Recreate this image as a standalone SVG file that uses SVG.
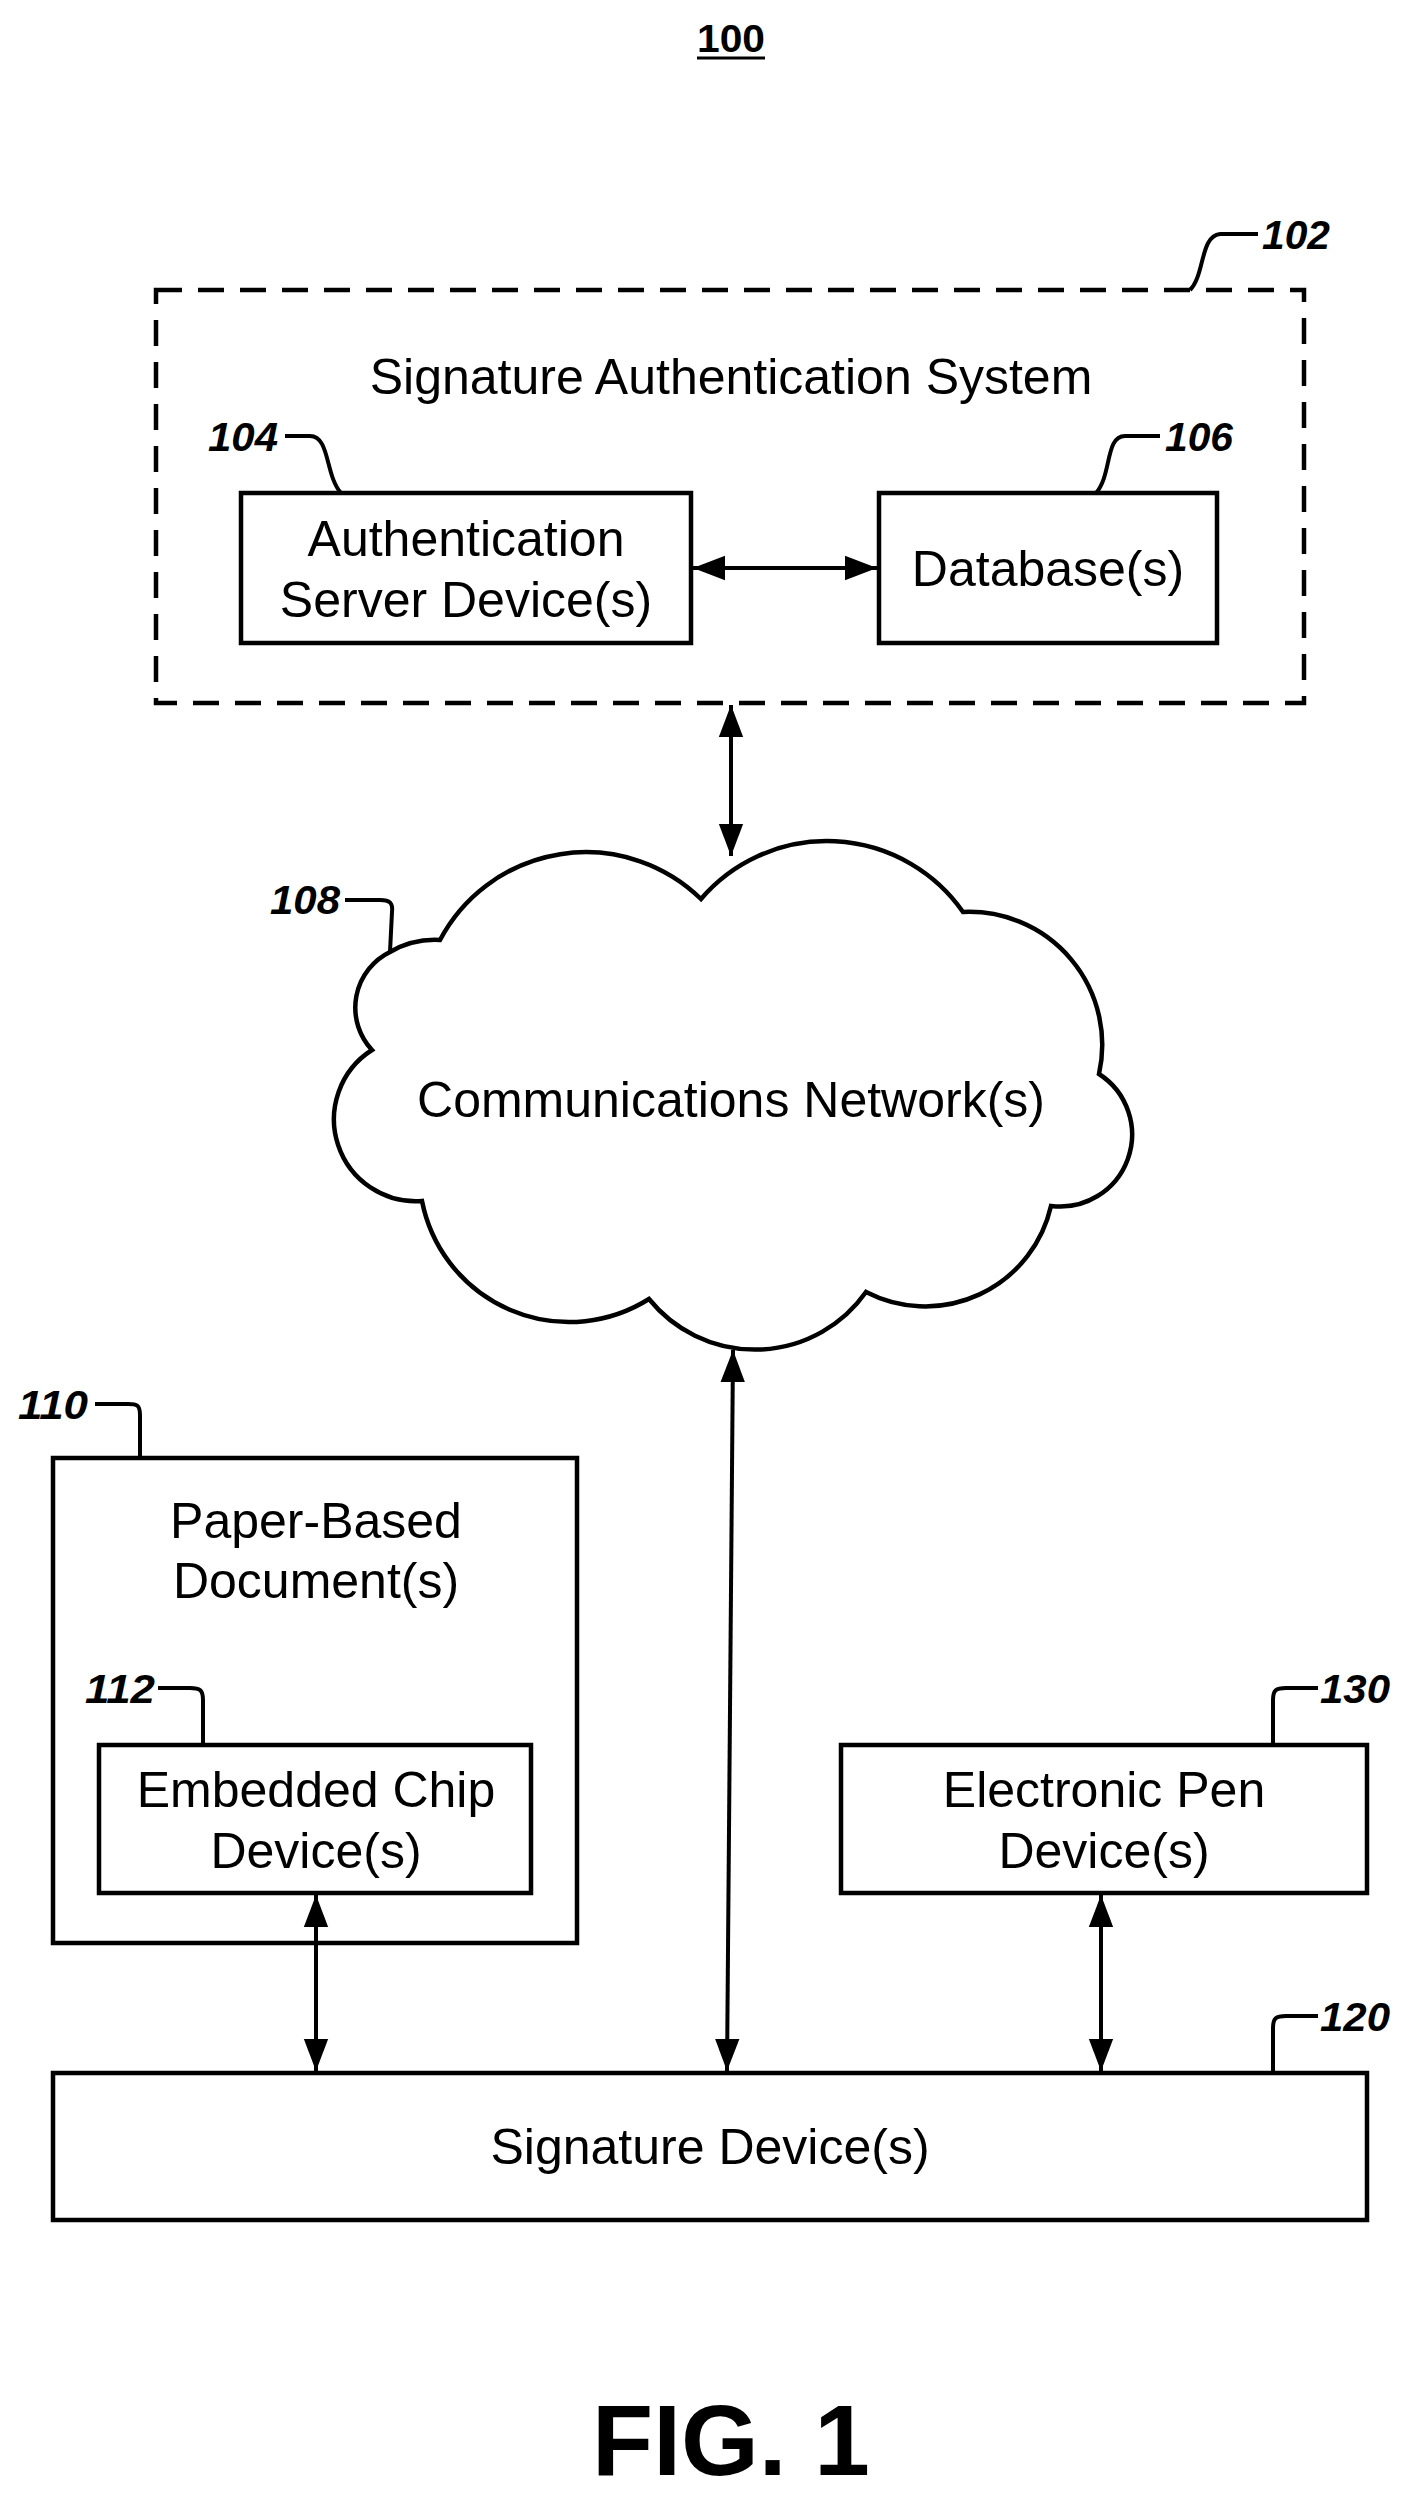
<svg xmlns="http://www.w3.org/2000/svg" width="1415" height="2495" viewBox="0 0 1415 2495">
<defs>
<marker id="ah" viewBox="0 0 10 10" refX="10" refY="5" markerWidth="32" markerHeight="32" markerUnits="userSpaceOnUse" orient="auto-start-reverse"><path d="M0,1.2 L10,5 L0,8.8 Z" fill="#000"/></marker>
<style>
.t{font-family:"Liberation Sans",Arial,sans-serif;font-size:50px;text-anchor:middle;fill:#000}
.l{font-family:"Liberation Sans",Arial,sans-serif;font-size:40px;font-weight:bold;font-style:italic;fill:#000}
.b{fill:#fff;stroke:#000;stroke-width:4.5}
.ld{fill:none;stroke:#000;stroke-width:4}
.c{fill:none;stroke:#000;stroke-width:4;marker-start:url(#ah);marker-end:url(#ah)}
</style>
</defs>
<rect width="1415" height="2495" fill="#fff"/>
<g id="title">
<text x="731" y="52" class="t" style="font-weight:bold;font-size:38px" textLength="68" lengthAdjust="spacingAndGlyphs">100</text>
<line x1="697" y1="58" x2="765" y2="58" stroke="#000" stroke-width="3"/>
</g>
<g id="n102">
<rect x="156" y="290" width="1148" height="413" fill="none" stroke="#000" stroke-width="4.5" stroke-dasharray="26,16"/>
<text x="731" y="394" class="t">Signature Authentication System</text>
<path class="ld" d="M1190,290 C1205,275 1200,236 1220,234 L1258,234"/>
<text x="1262" y="249" class="l" textLength="68" lengthAdjust="spacingAndGlyphs">102</text>
</g>
<g id="n104">
<rect class="b" x="241" y="493" width="450" height="150"/>
<text x="466" y="556" class="t">Authentication</text>
<text x="466" y="617" class="t">Server Device(s)</text>
<path class="ld" d="M341,493 C325,475 330,436 310,436 L285,436"/>
<text x="208" y="451" class="l" textLength="70" lengthAdjust="spacingAndGlyphs">104</text>
</g>
<g id="n106">
<rect class="b" x="879" y="493" width="338" height="150"/>
<text x="1048" y="586" class="t">Database(s)</text>
<path class="ld" d="M1096,493 C1112,475 1105,436 1125,436 L1160,436"/>
<text x="1165" y="451" class="l" textLength="68" lengthAdjust="spacingAndGlyphs">106</text>
</g>
<g id="n108">
<path class="b" d="M390,952 A90,90 0 0 1 440,940 A165,165 0 0 1 701,899 A166,166 0 0 1 963,912 A133,133 0 0 1 1099,1074 A72,72 0 0 1 1051,1206 A129,129 0 0 1 866,1292 A136,136 0 0 1 649,1299 A150,150 0 0 1 422,1201 A82,82 0 0 1 372,1050 A62,62 0 0 1 390,952 Z"/>
<text x="731" y="1117" class="t">Communications Network(s)</text>
<path class="ld" d="M390,952 L392,912 C393,903 390,900 380,900 L345,900"/>
<text x="270" y="914" class="l" textLength="70" lengthAdjust="spacingAndGlyphs">108</text>
</g>
<g id="n110">
<rect class="b" x="53" y="1458" width="524" height="485"/>
<text x="316" y="1538" class="t">Paper-Based</text>
<text x="316" y="1598" class="t">Document(s)</text>
<path class="ld" d="M140,1458 L140,1415 C140,1405 137,1404 128,1404 L95,1404"/>
<text x="18" y="1419" class="l" textLength="70" lengthAdjust="spacingAndGlyphs">110</text>
</g>
<g id="n112">
<rect class="b" x="99" y="1745" width="432" height="148"/>
<text x="316" y="1807" class="t">Embedded Chip</text>
<text x="316" y="1868" class="t">Device(s)</text>
<path class="ld" d="M203,1745 L203,1700 C203,1690 200,1688 190,1688 L158,1688"/>
<text x="85" y="1703" class="l" textLength="70" lengthAdjust="spacingAndGlyphs">112</text>
</g>
<g id="n130">
<rect class="b" x="841" y="1745" width="526" height="148"/>
<text x="1104" y="1807" class="t">Electronic Pen</text>
<text x="1104" y="1868" class="t">Device(s)</text>
<path class="ld" d="M1273,1745 L1273,1700 C1273,1690 1276,1688 1286,1688 L1318,1688"/>
<text x="1320" y="1703" class="l" textLength="70" lengthAdjust="spacingAndGlyphs">130</text>
</g>
<g id="n120">
<rect class="b" x="53" y="2073" width="1314" height="147"/>
<text x="710" y="2164" class="t">Signature Device(s)</text>
<path class="ld" d="M1273,2073 L1273,2028 C1273,2018 1276,2016 1286,2016 L1318,2016"/>
<text x="1320" y="2031" class="l" textLength="70" lengthAdjust="spacingAndGlyphs">120</text>
</g>
<g id="connectors">
<line class="c" x1="693" y1="568" x2="877" y2="568"/>
<line class="c" x1="731" y1="705" x2="731" y2="856"/>
<line class="c" x1="733" y1="1350" x2="727" y2="2071"/>
<line class="c" x1="316" y1="1895" x2="316" y2="2071"/>
<line class="c" x1="1101" y1="1895" x2="1101" y2="2071"/>
</g>
<g id="fig">
<text x="731" y="2475" class="t" style="font-weight:bold;font-size:100px">FIG. 1</text>
</g>
</svg>
